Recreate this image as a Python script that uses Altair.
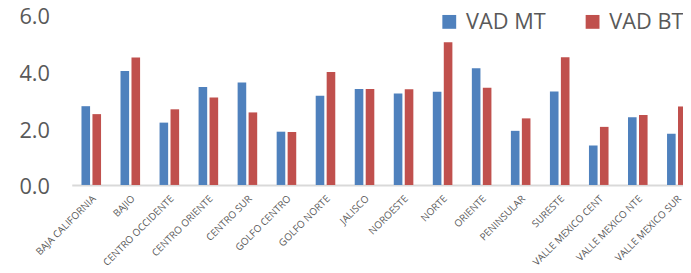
import altair as alt
import pandas as pd

regions = ["BAJA CALIFORNIA", "BAJIO", "CENTRO OCCIDENTE", "CENTRO ORIENTE", "CENTRO SUR",
           "GOLFO CENTRO", "GOLFO NORTE", "JALISCO", "NOROESTE", "NORTE", "ORIENTE",
           "PENINSULAR", "SURESTE", "VALLE MEXICO CENT", "VALLE MEXICO NTE", "VALLE MEXICO SUR"]
vad_mt = [2.78, 4.02, 2.20, 3.46, 3.62, 1.88, 3.15, 3.39, 3.23, 3.29, 4.12, 1.91, 3.30, 1.39, 2.39, 1.81]
vad_bt = [2.50, 4.50, 2.67, 3.09, 2.56, 1.87, 3.99, 3.39, 3.38, 5.04, 3.43, 2.35, 4.51, 2.05, 2.47, 2.77]
series = ["VAD MT", "VAD BT"]
colors = ["#4F81BD", "#C0504D"]
y_ticks = [0, 2, 4, 6]

rows = []
for i, r in enumerate(regions):
    rows.append({"region": r, "serie": series[0], "valor": vad_mt[i]})
    rows.append({"region": r, "serie": series[1], "valor": vad_bt[i]})
df = pd.DataFrame(rows)

chart = alt.Chart(df).mark_bar().encode(
    x=alt.X("region:N", sort=regions,
            scale=alt.Scale(paddingInner=0, paddingOuter=0),
            axis=alt.Axis(title=None, labelAngle=-45, labelAlign="right", labelBaseline="middle",
                          labelFontSize=10, labelColor="#595959", labelFont="Open Sans",
                          ticks=False, domainColor="#D9D9D9", domainWidth=2, labelPadding=12,
                          labelOffset=3, labelOverlap=False)),
    xOffset=alt.XOffset("serie:N", sort=series,
                        scale=alt.Scale(paddingInner=0.216, paddingOuter=0.887)),
    y=alt.Y("valor:Q", scale=alt.Scale(domain=[0, 6], nice=False),
            axis=alt.Axis(title=None, values=y_ticks, format=".1f", labelFontSize=22,
                          labelColor="#595959", labelFont="Open Sans", domain=False,
                          ticks=False, grid=False, labelPadding=22.5, labelOffset=2)),
    color=alt.Color("serie:N", sort=series, scale=alt.Scale(domain=series, range=colors),
                    legend=alt.Legend(title=None, orient="none", legendX=371, legendY=-4,
                                      direction="horizontal", symbolType="square", symbolSize=196,
                                      labelFontSize=22, labelFont="Open Sans", labelColor="#595959",
                                      columnPadding=36, labelOffset=6, symbolStrokeWidth=0,
                                      padding=0)),
).properties(
    width=632, height=172,
    autosize=alt.AutoSizeParams(type="none"),
    padding={"left": 64.5, "top": 5.5, "right": -13.5, "bottom": 84},
).configure_view(stroke=None)

chart.save("out.html", embed_options={"renderer": "svg", "actions": False})
